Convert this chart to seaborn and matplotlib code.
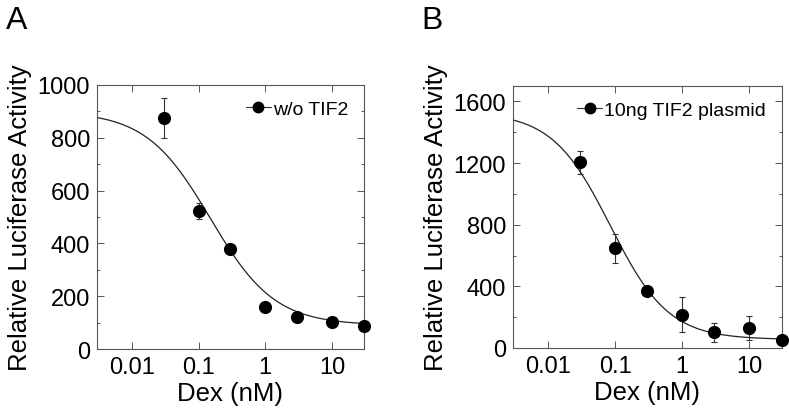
import numpy as np
import pandas as pd
import matplotlib
matplotlib.use('Agg')
import matplotlib.pyplot as plt
import seaborn as sns
from matplotlib.lines import Line2D
from matplotlib.ticker import LogLocator, MultipleLocator, NullFormatter, FixedLocator, FixedFormatter

# 데이터
dex = [0.03, 0.1, 0.3, 1, 3, 10, 30]

a_mean = [875, 523, 379, 159, 121, 103, 86]
a_err = [75, 30, 12, 8, 8, 8, 8]

b_mean = [1205, 647, 368, 216, 102, 130, 54]
b_err = [75, 95, 20, 115, 60, 75, 15]

# 피팅 곡선 파라미터 (top, bottom, ec50, hill slope)
a_fit = [900, 90, 0.15, 0.9]
b_fit = [1530, 55, 0.085, 1.0]

x_ticks = [0.01, 0.1, 1, 10]
x_labels = ['0.01', '0.1', '1', '10']

sns.set_style('ticks')
plt.rcParams['font.family'] = ['Liberation Sans', 'DejaVu Sans']
plt.rcParams['text.color'] = 'black'
plt.rcParams['axes.labelcolor'] = 'black'
plt.rcParams['xtick.labelcolor'] = 'black'
plt.rcParams['ytick.labelcolor'] = 'black'

fig = plt.figure(figsize=(7.89, 4.10), dpi=100)
ax_a = fig.add_axes([0.123, 0.1463, 0.338, 0.644])
ax_b = fig.add_axes([0.650, 0.1488, 0.3405, 0.639])


def hill(x, p):
    top, bottom, ec50, n = p
    return bottom + (top - bottom) / (1 + (x / ec50) ** n)


def draw_panel(ax, mean, err, fit, ymax, major, minor, label):
    xs = np.logspace(np.log10(0.003), np.log10(30), 300)
    curve = pd.DataFrame({'x': xs, 'y': hill(xs, fit)})
    sns.lineplot(data=curve, x='x', y='y', ax=ax, color='#222222', lw=0.9)

    ax.errorbar(dex, mean, yerr=err, fmt='none', ecolor='#333333',
                elinewidth=0.8, capsize=2.2, capthick=0.8, clip_on=False)
    pts = pd.DataFrame({'x': dex, 'y': mean})
    sns.scatterplot(data=pts, x='x', y='y', ax=ax, color='black', s=90,
                    edgecolor='black', linewidth=0, zorder=5, clip_on=False)

    ax.set_xscale('log')
    ax.set_xlim(0.003, 30)
    ax.set_ylim(0, ymax)
    ax.xaxis.set_major_locator(FixedLocator(x_ticks))
    ax.xaxis.set_major_formatter(FixedFormatter(x_labels))
    ax.xaxis.set_minor_locator(LogLocator(base=10, subs=np.arange(2, 10)))
    ax.xaxis.set_minor_formatter(NullFormatter())
    ax.yaxis.set_major_locator(MultipleLocator(major))
    ax.yaxis.set_minor_locator(MultipleLocator(minor))

    ax.tick_params(which='both', top=True, right=True, direction='in',
                   labelsize=17, color='#555555', width=0.7, labelcolor='black')
    ax.tick_params(which='major', length=5, pad=5)
    ax.tick_params(which='minor', length=2.5)
    for s in ax.spines.values():
        s.set_color('#555555')
        s.set_linewidth(0.8)

    ax.set_xlabel('Dex (nM)', fontsize=18.5, labelpad=2, color='black')
    ax.set_ylabel('Relative Luciferase Activity', fontsize=18.5, labelpad=4, color='black')

    h = Line2D([], [], color='#333333', lw=0.8, marker='o', markersize=7.5,
               markerfacecolor='black', markeredgecolor='black')
    ax.legend([h], [label], loc='upper right', frameon=False, fontsize=14,
              handlelength=1.3, handletextpad=0.1, borderaxespad=0.4,
              labelcolor='black')


draw_panel(ax_a, a_mean, a_err, a_fit, 1000, 200, 100, 'w/o TIF2')
draw_panel(ax_b, b_mean, b_err, b_fit, 1700, 400, 200, '10ng TIF2 plasmid')
ax_b.set_yticks([0, 400, 800, 1200, 1600])

fig.text(0.008, 0.985, 'A', fontsize=23, va='top', ha='left', color='black')
fig.text(0.534, 0.985, 'B', fontsize=23, va='top', ha='left', color='black')

fig.savefig('out.png', dpi=100)
